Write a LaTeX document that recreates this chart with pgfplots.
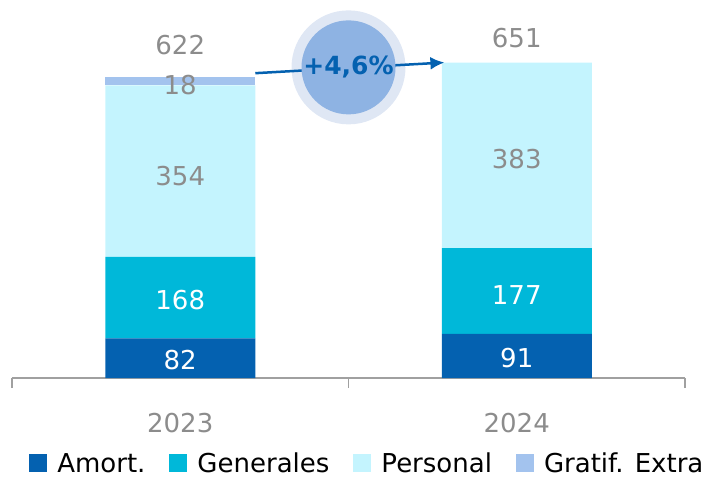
\documentclass[border=0pt]{standalone}
\usepackage{pgfplots}
\pgfplotsset{compat=1.18}
\usetikzlibrary{arrows.meta}
\usepackage{fontspec}
\setmainfont{DejaVu Sans}
\definecolor{amort}{HTML}{0461B0}
\definecolor{gen}{HTML}{00B8D9}
\definecolor{pers}{HTML}{C4F4FE}
\definecolor{grat}{HTML}{A3C3EE}
\definecolor{labgray}{HTML}{8C8C8C}
\definecolor{axgray}{HTML}{A0A0A0}
\definecolor{bubout}{HTML}{DFE7F4}
\definecolor{bubin}{HTML}{8EB3E3}
\pgfplotsset{base/.style={width=673pt,height=378pt,scale only axis,
  xmin=-0.5,xmax=1.5,ymin=0,ymax=780,at={(0pt,0pt)},anchor=south west,clip=false}}
\newcommand{\lf}{\fontsize{26}{30}\selectfont}
\begin{document}
\begin{tikzpicture}
\begin{axis}[base,
  ybar stacked, bar width=150pt,
  hide y axis, axis x line*=bottom,
  x axis line style={draw=axgray,line width=1.2pt,-},
  xtick={0,1}, xticklabels={2023,2024},
  major tick length=0pt,
  xticklabel style={font=\lf, text=labgray, anchor=center, yshift=-45pt},
  extra x ticks={-0.5,0.5,1.5}, extra x tick labels={},
  extra x tick style={major tick length=10pt, tick align=outside, tick style={draw=axgray,line width=1.2pt}},
  legend style={at={(axis description cs:0.528,-0.227)}, anchor=center, draw=none, fill=none,
    legend columns=4, font=\lf, /tikz/every even column/.append style={column sep=22pt},
    /tikz/every odd column/.append style={column sep=8pt}},
  legend image code/.code={\path[#1,draw=none] (0pt,-8pt) rectangle (18pt,10pt);},
]
\addplot[fill=amort,draw=none] coordinates {(0,82) (1,91)};
\addplot[fill=gen,draw=none] coordinates {(0,168) (1,177)};
\addplot[fill=pers,draw=none] coordinates {(0,354) (1,383)};
\addplot[fill=grat,draw=none] coordinates {(0,18) (1,0)};
\legend{Amort.,Generales,Personal,Gratif. Extra}
\end{axis}
\begin{axis}[base, hide axis]
\addplot[draw=none, nodes near coords, point meta=explicit symbolic,
  every node near coord/.style={anchor=center, font=\lf, text=white}]
  table[meta=l] {
x y l
0 37 82
0 161 168
1 41 91
1 171 177
};
\addplot[draw=none, nodes near coords, point meta=explicit symbolic,
  every node near coord/.style={anchor=center, font=\lf, text=labgray}]
  table[meta=l] {
x y l
0 417 354
0 605 18
0 687 622
1 452 383
1 702 651
};
\fill[bubout] (axis cs:0.5,641) circle[radius=57pt];
\draw[amort, line width=2.5pt, -{Latex[length=14pt,width=13pt]}] (axis cs:0.223,629) -- (axis cs:0.785,651);
\fill[bubin] (axis cs:0.5,641) circle[radius=47pt];
\node[font=\fontsize{25}{30}\selectfont\bfseries, text=amort] at (axis cs:0.5,641) {+4,6\%};
\end{axis}
\pgfresetboundingbox
\path (-12pt,-101pt) rectangle (696pt,378pt);
\end{tikzpicture}
\end{document}
